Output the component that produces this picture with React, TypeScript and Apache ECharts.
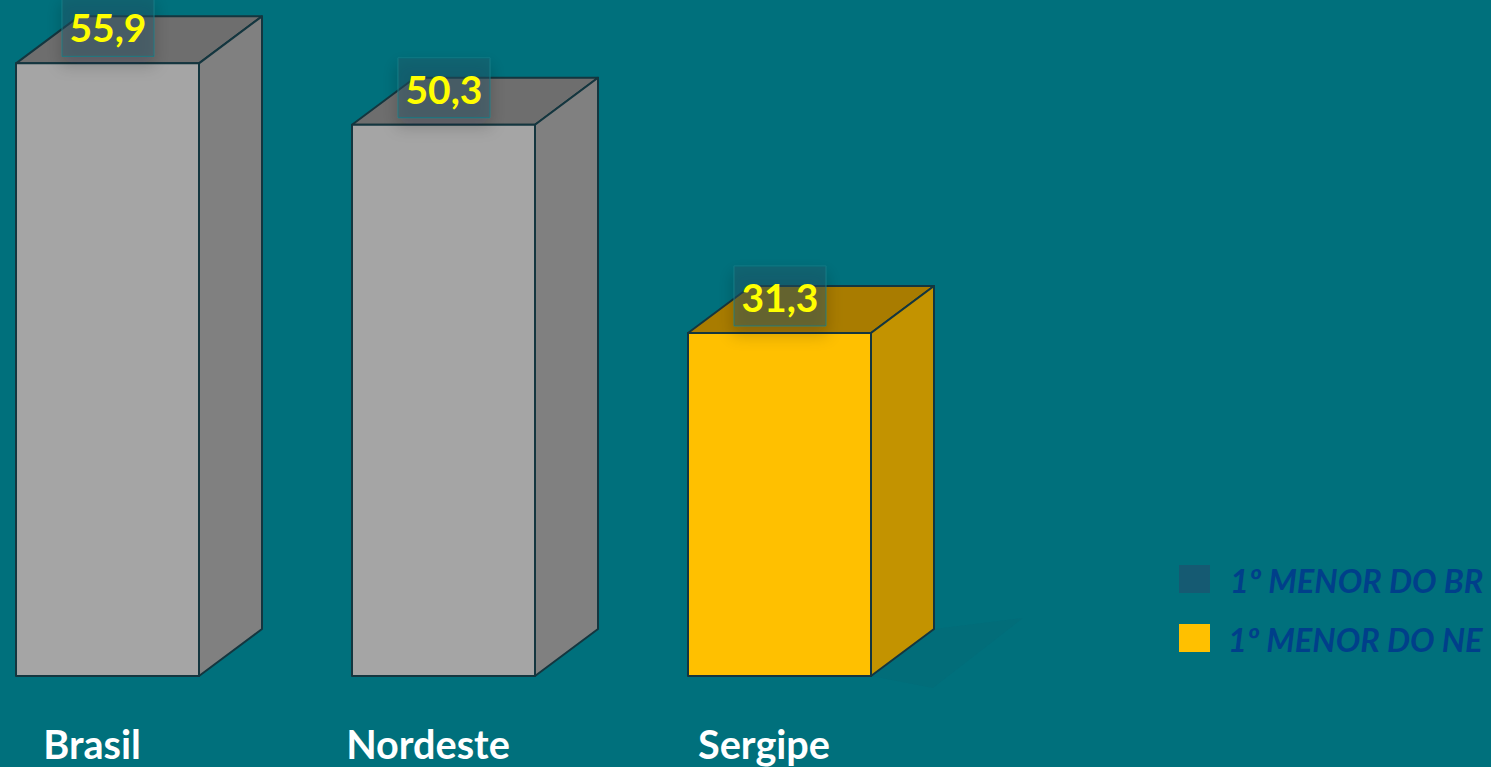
import React, { useEffect, useRef } from "react";
import * as echarts from "echarts";

const categories = ["Brasil", "Nordeste", "Sergipe"];
const values = [55.9, 50.3, 31.3];
const valueLabels = ["55,9", "50,3", "31,3"];
const legendLabels = ["1º MENOR DO BR", "1º MENOR DO NE"];

const BG = "#00707C";
const STROKE = "#14363F";
const frontColors = ["#A5A5A5", "#A5A5A5", "#FFC000"];
const topColors = ["#6E6E6E", "#6E6E6E", "#A97C00"];
const sideColors = ["#808080", "#808080", "#C39300"];
const FONT = "Lato, Carlito, sans-serif";

const BAR_W = 183;
const DX = 63;
const DY = 47;

export default function App() {
  const ref = useRef<HTMLDivElement>(null);
  useEffect(() => {
    const chart = echarts.init(ref.current!, null, { renderer: "svg" });
    chart.setOption({
      animation: false,
      backgroundColor: BG,
      grid: { left: 107.5, top: 0, width: 672, height: 676, containLabel: false },
      xAxis: {
        type: "category",
        boundaryGap: false,
        data: categories,
        axisLine: { show: false },
        axisTick: { show: false },
        axisLabel: {
          show: true,
          interval: 0,
          margin: 47,
          color: "#FFFFFF",
          fontFamily: FONT,
          fontWeight: "bold",
          fontSize: 39.6,
          formatter: (v: string) => v,
          padding: [0, 31, 0, 0],
        },
      },
      yAxis: { type: "value", min: 0, max: 61.68, show: false, splitLine: { show: false } },
      series: [
        {
          type: "custom",
          clip: false,
          data: categories.map((_, i) => [i, values[i]]),
          encode: { x: 0, y: 1 },
          renderItem: (params: any, api: any) => {
            const i = params.dataIndex;
            const [cx, yTop] = api.coord([api.value(0), api.value(1)]);
            const [, yBase] = api.coord([api.value(0), 0]);
            const x0 = cx - BAR_W / 2;
            const x1 = cx + BAR_W / 2;
            const line = { stroke: STROKE, lineWidth: 2, lineJoin: "round" };
            const children: any[] = [];
            if (i === 2) {
              children.push({
                type: "polygon",
                shape: { points: [[x1, yBase], [x1 + DX, yBase - DY], [x1 + 152, yBase - 58], [x1 + 62, yBase + 12]] },
                style: { fill: "rgba(30,60,70,0.05)" },
              });
            }
            children.push(
              {
                type: "polygon",
                shape: { points: [[x0, yTop], [x0 + DX, yTop - DY], [x1 + DX, yTop - DY], [x1, yTop]] },
                style: { fill: topColors[i], ...line },
              },
              {
                type: "polygon",
                shape: { points: [[x1, yTop], [x1 + DX, yTop - DY], [x1 + DX, yBase - DY], [x1, yBase]] },
                style: { fill: sideColors[i], ...line },
              },
              {
                type: "rect",
                shape: { x: x0, y: yTop, width: BAR_W, height: yBase - yTop },
                style: { fill: frontColors[i], ...line },
              },
              {
                type: "rect",
                shape: { x: cx - 45.5, y: yTop - 67, width: 92, height: 60 },
                style: {
                  fill: "rgba(35,85,100,0.40)",
                  stroke: "rgba(20,125,135,0.85)",
                  lineWidth: 1,
                  shadowColor: "rgba(20,30,40,0.45)",
                  shadowBlur: 16,
                  shadowOffsetY: 8,
                },
              },
              {
                type: "text",
                style: {
                  x: cx + 0.5,
                  y: yTop - 36,
                  text: valueLabels[i],
                  fill: "#FFFF00",
                  font: `bold 39px ${FONT}`,
                  align: "center",
                  verticalAlign: "middle",
                },
              }
            );
            return { type: "group", children };
          },
        },
      ],
      graphic: [
        { type: "rect", shape: { x: 1179, y: 565, width: 31, height: 28 }, style: { fill: "#155A72" } },
        { type: "rect", shape: { x: 1179, y: 624, width: 31, height: 28 }, style: { fill: "#FFC000" } },
        {
          type: "text",
          x: 1230,
          y: 580,
          style: { text: legendLabels[0], fill: "#003F8A", font: `italic bold 32.6px ${FONT}`, align: "left", verticalAlign: "middle" },
        },
        {
          type: "text",
          x: 1228,
          y: 639,
          style: { text: legendLabels[1], fill: "#003F8A", font: `italic bold 32.6px ${FONT}`, align: "left", verticalAlign: "middle" },
        },
      ],
    });
    return () => chart.dispose();
  }, []);
  return <div ref={ref} style={{ position: "fixed", left: 0, top: 0, width: 1491, height: 767 }} />;
}
